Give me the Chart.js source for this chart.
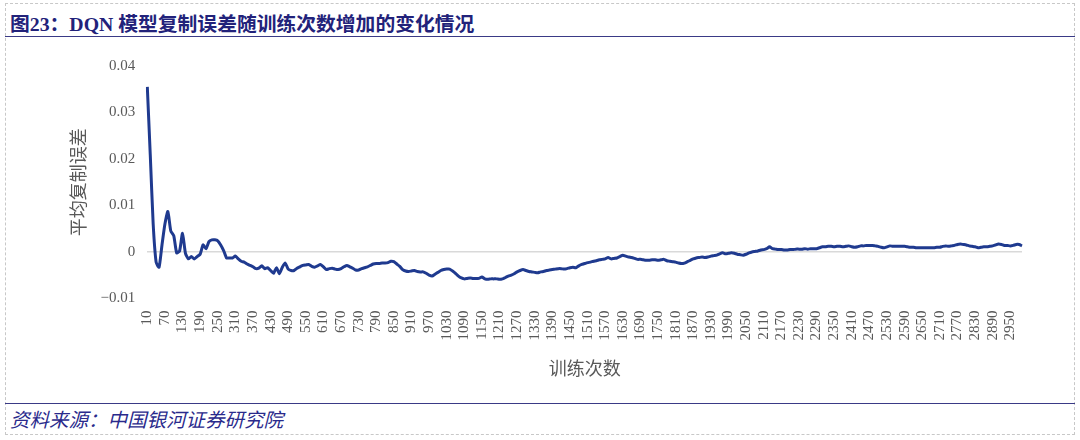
<!DOCTYPE html>
<html>
<head>
<meta charset="utf-8">
<script src="https://cdn.jsdelivr.net/npm/chart.js@4.4.1/dist/chart.umd.min.js"></script>
<style>
  html, body { margin: 0; padding: 0; background: #fff; }
  #page { position: relative; width: 1080px; height: 440px; overflow: hidden; }
  #frame { position: absolute; left: 5px; top: 3px; width: 1068px; height: 430px; border: 1px dashed #c8c8c8; }
  #title { position: absolute; left: 10px; top: 8px; font: bold 19.8px "Liberation Serif", "Noto Sans CJK SC", serif; color: #22227a; white-space: nowrap; }
  #rule1 { position: absolute; left: 5px; width: 1070px; top: 36px; height: 0; border-top: 1.5px solid #3a3a86; }
  #rule2 { position: absolute; left: 5px; width: 1070px; top: 403px; height: 0; border-top: 1.5px solid #3a3a86; }
  #source { position: absolute; left: 10px; top: 404px; font: italic 19.5px "Noto Sans CJK SC", sans-serif; color: #2a2a8c; white-space: nowrap; }
  #wrap { position: absolute; left: 0; top: 40px; width: 1080px; height: 360px; }
</style>
</head>
<body>
<div id="page">
  <div id="frame"></div>
  <div id="title">图23：DQN 模型复制误差随训练次数增加的变化情况</div>
  <div id="rule1"></div>
  <div id="wrap"><canvas id="chart"></canvas></div>
  <div id="rule2"></div>
  <div id="source">资料来源：中国银河证券研究院</div>
</div>
<script>
// training iterations, every 10 from 10 to 2990
const episodes = Array.from({length: 299}, (_, i) => 10 + i * 10);

// average replication error
const errorValues = [
  0.0355, 0.021, 0.006, -0.0022, -0.0033, 0.0015, 0.006, 0.0087, 0.0045, 0.0035,
  -0.0002, 0.0002, 0.0040, -0.0003, -0.0015, -0.001, -0.0015, -0.001, -0.0005, 0.0015,
  0.0007, 0.0022, 0.0026, 0.0026, 0.0024, 0.0015, 0.0003, -0.0013, -0.0013, -0.0013,
  -0.0009, -0.0015, -0.002, -0.0022, -0.0026, -0.0029, -0.0032, -0.0036, -0.0035, -0.003,
  -0.0036, -0.0034, -0.004, -0.0046, -0.0034, -0.0047, -0.0033, -0.0024, -0.0037, -0.004,
  -0.004, -0.0035, -0.0032, -0.0029, -0.0028, -0.0027, -0.0031, -0.0033, -0.003, -0.0027,
  -0.0032, -0.0038, -0.0036, -0.0035, -0.0037, -0.0038, -0.0036, -0.0032, -0.0029, -0.0032,
  -0.0035, -0.0039, -0.0039, -0.0036, -0.0034, -0.0032, -0.0029, -0.0026, -0.0025, -0.0025,
  -0.0024, -0.0024, -0.0023, -0.002, -0.0021, -0.0026, -0.0031, -0.0038, -0.0041, -0.0042,
  -0.0041, -0.004, -0.0042, -0.0043, -0.0043, -0.0046, -0.005, -0.0052, -0.0048, -0.0044,
  -0.004, -0.0038, -0.0037, -0.0037, -0.0041, -0.0046, -0.0052, -0.0056, -0.0058, -0.0057,
  -0.0056, -0.0057, -0.0057, -0.0057, -0.0054, -0.0058, -0.0059, -0.0058, -0.0058, -0.0058,
  -0.0059, -0.0058, -0.0055, -0.0052, -0.005, -0.0047, -0.0043, -0.004, -0.0038, -0.004,
  -0.0042, -0.0043, -0.0044, -0.0045, -0.0043, -0.0042, -0.004, -0.0039, -0.0038, -0.0037,
  -0.0036, -0.0036, -0.0037, -0.0036, -0.0034, -0.0033, -0.0034, -0.003, -0.0027, -0.0025,
  -0.0023, -0.0022, -0.002, -0.0019, -0.0017, -0.0016, -0.0015, -0.0012, -0.0015, -0.0014,
  -0.0013, -0.001, -0.0007, -0.0009, -0.0011, -0.0012, -0.0014, -0.0016, -0.0016, -0.0017,
  -0.0018, -0.0018, -0.0017, -0.0017, -0.0018, -0.0017, -0.0016, -0.0019, -0.002, -0.0021,
  -0.0022, -0.0024, -0.0025, -0.0024, -0.0021, -0.0018, -0.0015, -0.0013, -0.0012, -0.0011,
  -0.0012, -0.0011, -0.0009, -0.0008, -0.0007, -0.0004, -0.0002, -0.0004, -0.0003, -0.0002,
  -0.0003, -0.0005, -0.0006, -0.0007, -0.0005, -0.0002, 0, 0.0001, 0.0002, 0.0004,
  0.0005, 0.0007, 0.0011, 0.0007, 0.0006, 0.0005, 0.0005, 0.0004, 0.0004, 0.0005,
  0.0005, 0.0006, 0.0006, 0.0006, 0.0007, 0.0006, 0.0007, 0.0007, 0.0007, 0.0009,
  0.0011, 0.0011, 0.0012, 0.0012, 0.0011, 0.0012, 0.0012, 0.0011, 0.0012, 0.0013,
  0.0011, 0.001, 0.0011, 0.0013, 0.0013, 0.0014, 0.0014, 0.0014, 0.0013, 0.0012,
  0.001, 0.0009, 0.0011, 0.0013, 0.0012, 0.0012, 0.0012, 0.0012, 0.0012, 0.0011,
  0.001, 0.001, 0.0009, 0.0009, 0.0009, 0.0009, 0.0009, 0.0009, 0.0009, 0.001,
  0.001, 0.0012, 0.0013, 0.0012, 0.0013, 0.0014, 0.0016, 0.0017, 0.0016, 0.0015,
  0.0013, 0.0012, 0.0011, 0.0009, 0.001, 0.0011, 0.0011, 0.0012, 0.0013, 0.0015,
  0.0017, 0.0016, 0.0014, 0.0014, 0.0013, 0.0014, 0.0016, 0.0016, 0.0013
];

const yTicks = [-0.01, 0, 0.01, 0.02, 0.03, 0.04];
const labelEvery = 6;

function drawChart() {
  const ctx = document.getElementById("chart").getContext("2d");
  new Chart(ctx, {
    type: 'line',
    data: {
      labels: episodes.map(String),
      datasets: [{
        label: "平均复制误差",
        data: errorValues,
        borderColor: '#1f3a8f',
        borderWidth: 3,
        pointRadius: 0,
        tension: 0.2,
        fill: false
      }]
    },
    options: {
      responsive: true,
      maintainAspectRatio: false,
      animation: false,
      layout: { padding: { left: 63, right: 58, top: 26, bottom: 17 } },
      plugins: { legend: { display: false }, tooltip: { enabled: false } },
      scales: {
        x: {
          offset: false,
          grid: { display: false },
          border: { display: false },
          ticks: {
            autoSkip: false,
            minRotation: 90,
            maxRotation: 90,
            padding: 4,
            color: '#595959',
            font: { family: 'Liberation Serif', size: 15 },
            callback: (v, i) => (i % labelEvery === 0 ? episodes[i] : null)
          },
          title: {
            display: true,
            text: '训练次数',
            color: '#595959',
            font: { family: 'Noto Sans CJK SC', size: 18 },
            padding: { top: 13 }
          }
        },
        y: {
          min: yTicks[0],
          max: yTicks[yTicks.length - 1],
          border: { display: false },
          grid: {
            drawTicks: false,
            lineWidth: 1.5,
            color: c => (c.tick && c.tick.value === 0 ? '#d9d9d9' : 'transparent')
          },
          afterBuildTicks: axis => { axis.ticks = yTicks.map(v => ({ value: v })); },
          ticks: {
            padding: 12,
            color: '#595959',
            font: { family: 'Liberation Serif', size: 15 },
            callback: v => (v === 0 ? '0' : (v < 0 ? '\u2212' + Math.abs(v).toFixed(2) : v.toFixed(2)))
          },
          title: {
            display: true,
            text: '平均复制误差',
            color: '#595959',
            font: { family: 'Noto Sans CJK SC', size: 18 },
            padding: { bottom: 0 }
          }
        }
      }
    }
  });
}

drawChart();
</script>
</body>
</html>
